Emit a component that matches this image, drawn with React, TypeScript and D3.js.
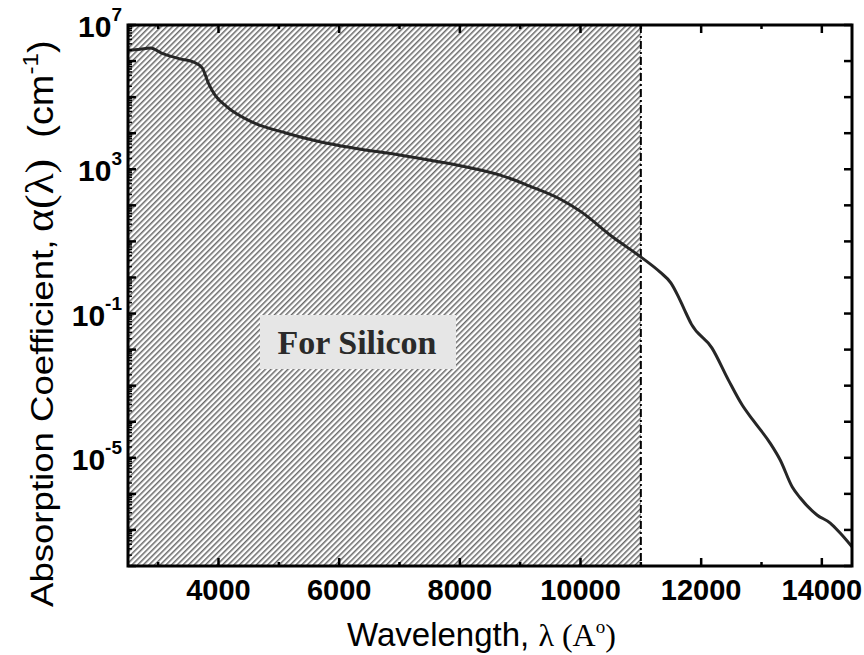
import React from "react";
import * as d3 from "d3";

// Absorption coefficient of silicon vs. wavelength (Å), log scale
const wavelengths = [
  2500, 2700, 2870, 3080, 3360, 3580, 3730, 3830, 3940, 4140, 4570, 5130, 5680,
  6230, 7000, 7670, 8170, 8670, 9160, 9660, 10000, 10540, 11020, 11320, 11500,
  11620, 11720, 11840, 12180, 12450, 12680, 12860, 13140, 13310, 13510, 13640,
  13920, 14140, 14300, 14500,
];
const alphaValues = [
  2.0e6, 2.14e6, 2.3e6, 1.6e6, 1.15e6, 9.5e5, 6.5e5, 2.5e5, 1.15e5, 5.4e4, 2.0e4,
  1.0e4, 5.8e3, 3.9e3, 2.5e3, 1.6e3, 1.1e3, 690, 340, 150, 68, 13, 3.5, 1.4, 0.7,
  0.3, 0.13, 0.05, 0.011, 1.45e-3, 2.9e-4, 1.1e-4, 2.6e-5, 8.7e-6, 1.55e-6,
  7.8e-7, 2.6e-7, 1.55e-7, 8.3e-8, 3.4e-8,
];

const xMajorTicks = [4000, 6000, 8000, 10000, 12000, 14000];
const xMinorTicks = [3000, 5000, 7000, 9000, 11000, 13000];
const yLabelExponents = [7, 3, -1, -5];
const bandEdge = 11000; // absorption edge of the shaded region
const annotation = "For Silicon";

const W = 864;
const H = 655;
const M = { left: 128, right: 852, top: 25, bottom: 566 };

export default function App() {
  const x = d3.scaleLinear().domain([2500, 14500]).range([M.left, M.right]);
  const y = d3.scaleLog().domain([1e-8, 1e7]).range([M.bottom, M.top]);

  const pts = wavelengths.map((w, i) => [w, alphaValues[i]] as [number, number]);
  const line = d3
    .line<[number, number]>()
    .x((d) => x(d[0]))
    .y((d) => y(d[1]))
    .curve(d3.curveMonotoneX);

  const decades = d3.range(-8, 8);
  const minorY: number[] = [];
  decades.forEach((e) => {
    if (e >= 7) return;
    for (let k = 2; k <= 9; k++) minorY.push(k * Math.pow(10, e));
  });

  const sans = "'Liberation Sans', Arial, Helvetica, sans-serif";
  const serif = "'Liberation Serif', 'Times New Roman', serif";
  const xEdge = x(bandEdge);
  const hp = 4.0; // hatch spacing
  const titleX = 53;

  return (
    <svg width={W} height={H} style={{ display: "block", position: "absolute", left: 0, top: 0 }}>
      <defs>
        <pattern
          id="hatch"
          width={hp}
          height={hp}
          patternUnits="userSpaceOnUse"
          patternTransform="rotate(45)"
        >
          <rect width={hp} height={hp} fill="#ffffff" />
          <line x1={0.8} y1={0} x2={0.8} y2={hp} stroke="#505050" strokeWidth={1.3} />
        </pattern>
        <clipPath id="plotClip">
          <rect x={M.left} y={M.top} width={M.right - M.left} height={M.bottom - M.top} />
        </clipPath>
      </defs>
      <rect width={W} height={H} fill="#fff" />

      {/* shaded absorbing band */}
      <rect
        x={M.left}
        y={M.top}
        width={xEdge - M.left}
        height={M.bottom - M.top}
        fill="url(#hatch)"
      />
      <line
        x1={xEdge}
        x2={xEdge}
        y1={M.top}
        y2={M.bottom}
        stroke="#000"
        strokeWidth={2}
        strokeDasharray="8,3,2,3"
      />

      {/* annotation box */}
      <rect x={260} y={315} width={196} height={54} fill="#e6e6e6" />
      <text
        x={357}
        y={354}
        textAnchor="middle"
        fontFamily={serif}
        fontWeight="bold"
        fontSize={34}
        fill="#2a2a2a"
      >
        {annotation}
      </text>

      {/* curve */}
      <path
        d={line(pts) || ""}
        fill="none"
        stroke="#262626"
        strokeWidth={3}
        clipPath="url(#plotClip)"
        strokeLinejoin="round"
      />

      {/* x ticks (bottom and top) */}
      {xMajorTicks.map((t) => (
        <g key={"xM" + t}>
          <line x1={x(t)} x2={x(t)} y1={M.bottom} y2={M.bottom - 8} stroke="#000" strokeWidth={2.5} />
          <line x1={x(t)} x2={x(t)} y1={M.top} y2={M.top + 8} stroke="#000" strokeWidth={2.5} />
          <text
            x={x(t)}
            y={600}
            textAnchor="middle"
            fontFamily={sans}
            fontWeight="bold"
            fontSize={29}
            fill="#000"
          >
            {t}
          </text>
        </g>
      ))}
      {xMinorTicks.map((t) => (
        <g key={"xm" + t}>
          <line x1={x(t)} x2={x(t)} y1={M.bottom} y2={M.bottom - 4} stroke="#000" strokeWidth={2.5} />
          <line x1={x(t)} x2={x(t)} y1={M.top} y2={M.top + 4} stroke="#000" strokeWidth={2.5} />
        </g>
      ))}

      {/* y ticks: left with minors, right majors only */}
      {decades.map((e) => (
        <g key={"yM" + e}>
          <line x1={M.left} x2={M.left + 8} y1={y(Math.pow(10, e))} y2={y(Math.pow(10, e))} stroke="#000" strokeWidth={2.5} />
          <line x1={M.right} x2={M.right - 8} y1={y(Math.pow(10, e))} y2={y(Math.pow(10, e))} stroke="#000" strokeWidth={2.5} />
        </g>
      ))}
      {minorY.map((v, i) => (
        <line key={"ym" + i} x1={M.left} x2={M.left + 4} y1={y(v)} y2={y(v)} stroke="#000" strokeWidth={1.5} />
      ))}
      {yLabelExponents.map((e) => (
        <text
          key={"yl" + e}
          x={122}
          y={y(Math.pow(10, e)) + 12}
          textAnchor="end"
          fontFamily={sans}
          fontWeight="bold"
          fontSize={30}
          fill="#000"
        >
          10
          <tspan fontSize={19} dy={-16}>
            {e}
          </tspan>
        </text>
      ))}

      {/* frame */}
      <rect
        x={M.left}
        y={M.top}
        width={M.right - M.left}
        height={M.bottom - M.top}
        fill="none"
        stroke="#000"
        strokeWidth={3}
      />

      {/* axis titles */}
      <text x={347} y={646} textAnchor="start" fill="#000">
        <tspan fontFamily={sans} fontSize={33}>Wavelength, </tspan>
        <tspan fontFamily={serif} fontSize={32}>λ (A</tspan>
        <tspan fontFamily={serif} fontSize={19} dy={-13}>o</tspan>
        <tspan fontFamily={serif} fontSize={32} dy={13}>)</tspan>
      </text>
      <text
        transform={`translate(${titleX},607) rotate(-90) scale(1.22,1.05)`}
        textAnchor="start"
        fontFamily={sans}
        fontSize={30}
        fill="#000"
      >
        Absorption Coefficient,
      </text>
      <text
        transform={`translate(${titleX},232) rotate(-90) scale(1.15,1.05)`}
        textAnchor="start"
        fill="#000"
      >
        <tspan fontFamily={serif} fontSize={38}>α(λ)</tspan>
        <tspan fontFamily={sans} fontSize={33}>{"\u00a0\u00a0(cm"}</tspan>
        <tspan fontFamily={sans} fontSize={21} dy={-14}>-1</tspan>
        <tspan fontFamily={sans} fontSize={33} dy={14}>)</tspan>
      </text>
    </svg>
  );
}
